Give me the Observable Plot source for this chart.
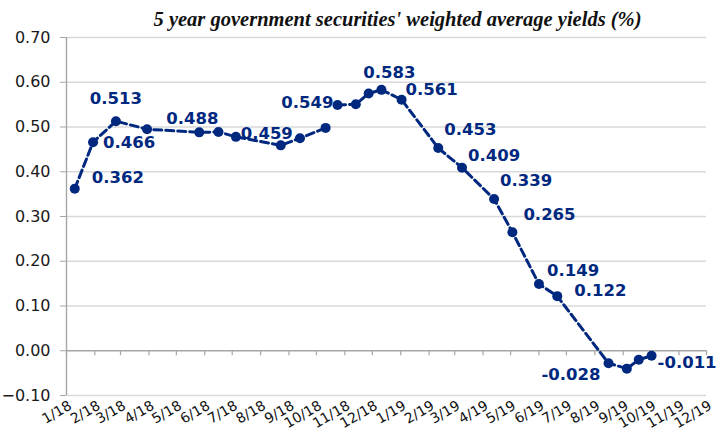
<!DOCTYPE html>
<html><head><meta charset="utf-8">
<script src="https://cdn.jsdelivr.net/npm/d3@7"></script>
<script src="https://cdn.jsdelivr.net/npm/@observablehq/plot@0.6"></script>
<style>
html,body{margin:0;padding:0;background:#fff;}
#chart{width:717px;height:443px;}
</style></head><body><div id="chart"></div>
<script>
const title = "5 year government securities' weighted average yields (%)";
const monthLabels = ["1/18","2/18","3/18","4/18","5/18","6/18","7/18","8/18","9/18","10/18","11/18","12/18",
  "1/19","2/19","3/19","4/19","5/19","6/19","7/19","8/19","9/19","10/19","11/19","12/19"];
const yTicks = [-0.1, 0.0, 0.1, 0.2, 0.3, 0.4, 0.5, 0.6, 0.7];
const auctionDates = ["2018-01-10","2018-01-30","2018-02-24","2018-03-30","2018-05-26","2018-06-16","2018-07-05",
  "2018-08-23","2018-09-13","2018-10-11","2018-10-18","2018-10-24","2018-11-13","2018-11-27","2018-12-11",
  "2019-01-02","2019-02-11","2019-03-09","2019-04-13","2019-05-03","2019-06-01","2019-06-21",
  "2019-08-16","2019-09-05","2019-09-18","2019-10-02"];
const yields = [0.362,0.466,0.513,0.495,0.488,0.489,0.478,
  0.459,0.475,0.498,NaN,0.549,0.551,0.575,0.583,
  0.561,0.453,0.409,0.339,0.265,0.149,0.122,
  -0.028,-0.040,-0.020,-0.011];
const valueLabels = ["0.362","0.466","0.513",null,"0.488",null,null,
  "0.459",null,null,null,"0.549",null,null,"0.583",
  "0.561","0.453","0.409","0.339","0.265","0.149","0.122",
  "-0.028",null,null,"-0.011"];

// label placement (anchor, dx, dy) – layout only
const labelPlacement = {
  "0.362": ["start", 17, -11], "0.466": ["start", 10, 1], "0.513": ["middle", 0, -22],
  "0.488": ["middle", -7, -14], "0.459": ["middle", -14, -12], "0.549": ["end", -4, -2],
  "0.583": ["middle", 8, -17], "0.561": ["start", 4, -10], "0.453": ["start", 6, -18],
  "0.409": ["start", 6, -12], "0.339": ["start", 6, -18], "0.265": ["start", 11, -17],
  "0.149": ["start", 8, -13], "0.122": ["start", 17, -5], "-0.028": ["end", -8, 11],
  "-0.011": ["start", 6, 7]
};

const navy = "#00287f";
const axisGray = "#a6a6a6";
const monthDates = monthLabels.map(s => { const [m, y] = s.split("/").map(Number); return new Date(Date.UTC(2000 + y, m - 1, 1)); });
const points = auctionDates.map((d, i) => ({date: new Date(d + "T00:00:00Z"), y: yields[i], label: valueLabels[i]}));
const valid = points.filter(p => Number.isFinite(p.y));
const labeled = points.filter(p => p.label);
const fmtMonth = new Map(monthDates.map((d, i) => [+d, monthLabels[i]]));

const labelMarks = labeled.map(p => {
  const [anchor, dx, dy] = labelPlacement[p.label];
  return Plot.text([p], {x: "date", y: "y", text: "label", textAnchor: anchor, dx, dy,
    fill: navy, fontWeight: "bold", fontSize: 16.5, fontFamily: "DejaVu Sans", lineAnchor: "middle"});
});

const chart = Plot.plot({
  width: 717, height: 443,
  marginLeft: 66, marginRight: 11, marginTop: 37, marginBottom: 48,
  style: {fontFamily: "DejaVu Sans", background: "#fff"},
  x: {type: "utc", domain: [monthDates[0], monthDates[monthDates.length - 1]]},
  y: {domain: [yTicks[0], yTicks[yTicks.length - 1]]},
  marks: [
    Plot.gridY(yTicks.filter(t => t !== 0), {stroke: "#d9d9d9", strokeOpacity: 1, strokeWidth: 1.4}),
    Plot.ruleY([0], {stroke: axisGray, strokeWidth: 1.4}),
    Plot.ruleX(monthDates, {x: d => d, y1: 0, y2: 0, insetBottom: -5, stroke: axisGray, strokeWidth: 1.2}),
    Plot.ruleX([monthDates[0]], {stroke: axisGray, strokeWidth: 1.4}),
    Plot.axisY({ticks: yTicks, tickFormat: d3.format(".2f"), tickSize: 6, tickPadding: 10,
      stroke: axisGray, fill: "#1a1a1a", fontSize: 16, label: null}),
    Plot.axisX({ticks: monthDates, tickFormat: d => fmtMonth.get(+d), tickSize: 0, tickPadding: 9,
      tickRotate: -30, fontSize: 14, fill: "#111", label: null, dx: 4}),
    Plot.line(points, {x: "date", y: "y", stroke: navy, strokeWidth: 3, strokeDasharray: "8,4"}),
    Plot.dot(valid, {x: "date", y: "y", r: 5, fill: navy}),
    ...labelMarks,
    Plot.text([title], {frameAnchor: "top", dx: 11, dy: -18, fontFamily: "Liberation Serif",
      fontStyle: "italic", fontWeight: "bold", fontSize: 20.5, fill: "#111", lineAnchor: "middle"})
  ]
});
document.getElementById("chart").appendChild(chart);
</script></body></html>
